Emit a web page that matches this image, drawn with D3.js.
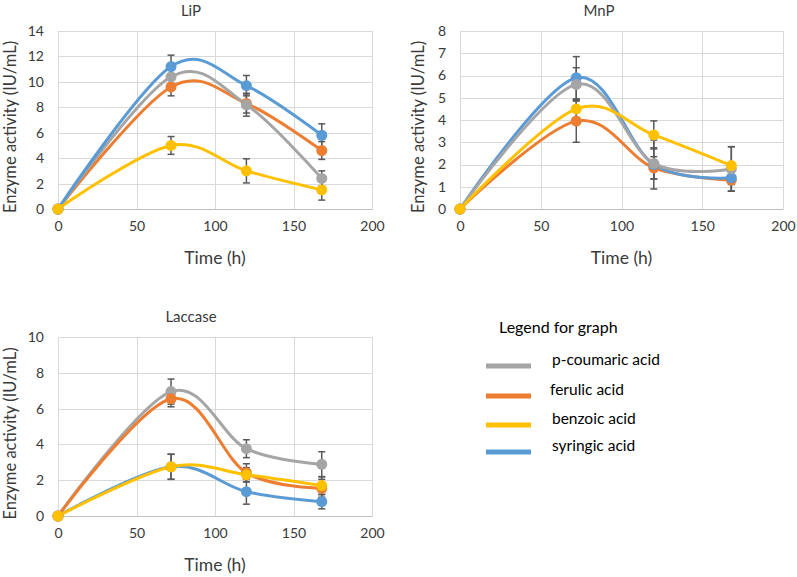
<!DOCTYPE html>
<html><head><meta charset="utf-8">
<script src="https://cdn.jsdelivr.net/npm/d3@7"></script>
<style>body{margin:0;background:#fff}svg{display:block}text{font-family:Lato,"Open Sans",sans-serif}</style>
</head><body><svg id="c" width="797" height="577"></svg>
<script>
const timePoints = [0, 72, 120, 168];
const seriesNames = ["p-coumaric acid", "ferulic acid", "benzoic acid", "syringic acid"];
const seriesColors = ["#A5A5A5", "#ED7D31", "#FFC000", "#5B9BD5"];
const xTicks = [0, 50, 100, 150, 200];

// LiP
const lipPCoumaric = [0, 10.4, 8.2, 2.4];
const lipFerulic   = [0, 9.6, 8.3, 4.6];
const lipBenzoic   = [0, 5.0, 3.0, 1.5];
const lipSyringic  = [0, 11.2, 9.7, 5.8];
const lipErrPCoumaric = [0, 0.8, 0.9, 0.6];
const lipErrFerulic   = [0, 0.7, 0.75, 0.7];
const lipErrBenzoic   = [0, 0.7, 0.95, 0.8];
const lipErrSyringic  = [0, 0.9, 0.8, 0.9];
const lipYTicks = [0, 2, 4, 6, 8, 10, 12, 14];

// MnP
const mnpPCoumaric = [0, 5.6, 2.05, 1.8];
const mnpFerulic   = [0, 3.95, 1.85, 1.3];
const mnpBenzoic   = [0, 4.5, 3.33, 1.95];
const mnpSyringic  = [0, 5.9, 2.0, 1.4];
const mnpErrPCoumaric = [0, 0.75, 0.7, 1.0];
const mnpErrFerulic   = [0, 0.95, 0.5, 0.5];
const mnpErrBenzoic   = [0, 0.4, 0.63, 0.85];
const mnpErrSyringic  = [0, 0.95, 1.1, 0.6];
const mnpYTicks = [0, 1, 2, 3, 4, 5, 6, 7, 8];

// Laccase
const lacPCoumaric = [0, 6.95, 3.76, 2.89];
const lacFerulic   = [0, 6.55, 2.42, 1.55];
const lacBenzoic   = [0, 2.75, 2.3, 1.7];
const lacSyringic  = [0, 2.75, 1.36, 0.8];
const lacErrPCoumaric = [0, 0.7, 0.5, 0.7];
const lacErrFerulic   = [0, 0.45, 0.5, 0.5];
const lacErrBenzoic   = [0, 0.7, 0.4, 0.5];
const lacErrSyringic  = [0, 0.7, 0.7, 0.4];
const lacYTicks = [0, 2, 4, 6, 8, 10];

const svg = d3.select("#c");
const textColor = "#3a3a3a";

function panel(cfg) {
  const x = d3.scaleLinear().domain([0, 200]).range([cfg.left, cfg.right]);
  const y = d3.scaleLinear().domain([0, cfg.yMax]).range([cfg.bottom, cfg.top]);
  const g = svg.append("g");
  g.selectAll(".hg").data(cfg.yTicks).join("line")
    .attr("x1", cfg.left).attr("x2", cfg.right)
    .attr("y1", d => Math.round(y(d)) + 0.5).attr("y2", d => Math.round(y(d)) + 0.5)
    .attr("stroke", "#D9D9D9").attr("stroke-width", 1);
  g.selectAll(".vg").data(xTicks).join("line")
    .attr("y1", cfg.top).attr("y2", cfg.bottom)
    .attr("x1", d => Math.round(x(d)) + 0.5).attr("x2", d => Math.round(x(d)) + 0.5)
    .attr("stroke", "#D9D9D9").attr("stroke-width", 1);
  const ya = d3.axisLeft(y).tickValues(cfg.yTicks).tickSize(0).tickPadding(14);
  const yg = g.append("g").attr("transform", `translate(${cfg.left},0)`).call(ya);
  yg.select(".domain").remove();
  yg.selectAll("text").attr("fill", textColor).style("font-size", "14px").style("font-family", "Lato,sans-serif");
  const xa = d3.axisBottom(x).tickValues(xTicks).tickSize(0).tickPadding(12);
  const xg = g.append("g").attr("transform", `translate(0,${cfg.bottom})`).call(xa);
  xg.select(".domain").attr("stroke", "#BFBFBF");
  xg.selectAll("text").attr("fill", textColor).style("font-size", "14px").style("font-family", "Lato,sans-serif");
  g.append("text").attr("x", cfg.titleX).attr("y", cfg.top - 15).attr("text-anchor", "middle")
    .attr("fill", textColor).style("font-size", "15px").text(cfg.title);
  g.append("text").attr("x", (cfg.left + cfg.right) / 2).attr("y", cfg.bottom + 55).attr("text-anchor", "middle")
    .attr("fill", textColor).style("font-size", "17.5px").text("Time (h)");
  g.append("text").attr("transform", `translate(${cfg.yTitleX},${(cfg.top + cfg.bottom) / 2 + 7}) rotate(-90)`)
    .attr("text-anchor", "middle").attr("fill", textColor).style("font-size", "16.5px")
    .text("Enzyme activity (IU/mL)");

  const line = d3.line().x(d => x(d.t)).y(d => y(d.v)).curve(d3.curveCatmullRom.alpha(0));
  const data = cfg.order.map(i => ({
    color: seriesColors[i],
    pts: timePoints.map((t, k) => ({ t, v: cfg.series[i][k], e: cfg.errs[i][k] }))
  }));
  g.selectAll(".ln").data(data).join("path")
    .attr("d", d => line(d.pts)).attr("fill", "none")
    .attr("stroke", d => d.color).attr("stroke-width", 3).attr("stroke-linejoin", "round");
  data.forEach(s => {
    s.pts.filter(p => p.e > 0).forEach(p => {
      const cx = x(p.t), y1 = y(p.v + p.e), y0 = y(p.v - p.e);
      g.append("line").attr("x1", cx).attr("x2", cx).attr("y1", y1).attr("y2", y0)
        .attr("stroke", "#595959").attr("stroke-width", 1.5);
      [y1, y0].forEach(yy => g.append("line").attr("x1", cx - 3.5).attr("x2", cx + 3.5)
        .attr("y1", yy).attr("y2", yy).attr("stroke", "#595959").attr("stroke-width", 1.5));
    });
  });
  data.forEach(s => {
    g.selectAll(null).data(s.pts).join("circle")
      .attr("cx", p => x(p.t)).attr("cy", p => y(p.v)).attr("r", 5.5)
      .attr("fill", s.color);
  });
}

panel({ title: "LiP", left: 58, right: 372, top: 31, bottom: 209, yMax: 14, yTicks: lipYTicks,
  titleX: 191, yTitleX: 16,
  series: [lipPCoumaric, lipFerulic, lipBenzoic, lipSyringic],
  errs: [lipErrPCoumaric, lipErrFerulic, lipErrBenzoic, lipErrSyringic], order: [1, 0, 3, 2] });
panel({ title: "MnP", left: 460, right: 783, top: 31, bottom: 209, yMax: 8, yTicks: mnpYTicks,
  titleX: 599, yTitleX: 424,
  series: [mnpPCoumaric, mnpFerulic, mnpBenzoic, mnpSyringic],
  errs: [mnpErrPCoumaric, mnpErrFerulic, mnpErrBenzoic, mnpErrSyringic], order: [1, 3, 0, 2] });
panel({ title: "Laccase", left: 58, right: 372, top: 337, bottom: 516, yMax: 10, yTicks: lacYTicks,
  titleX: 191, yTitleX: 16,
  series: [lacPCoumaric, lacFerulic, lacBenzoic, lacSyringic],
  errs: [lacErrPCoumaric, lacErrFerulic, lacErrBenzoic, lacErrSyringic], order: [3, 0, 1, 2] });

const lg = svg.append("g");
lg.append("text").attr("x", 499).attr("y", 333).attr("fill", "#000").style("font-size", "16px").text("Legend for graph");
const legendY = [366, 396, 425, 452];
lg.selectAll(".ll").data(seriesNames).join("line")
  .attr("x1", 486).attr("x2", 531).attr("y1", (d, i) => legendY[i]).attr("y2", (d, i) => legendY[i])
  .attr("stroke", (d, i) => seriesColors[i]).attr("stroke-width", 5);
lg.selectAll(".lt").data(seriesNames).join("text")
  .attr("x", (d, i) => i === 1 ? 550 : 552).attr("y", (d, i) => legendY[i] - 1)
  .attr("fill", "#000").style("font-size", "15.5px").text(d => d);
</script></body></html>
